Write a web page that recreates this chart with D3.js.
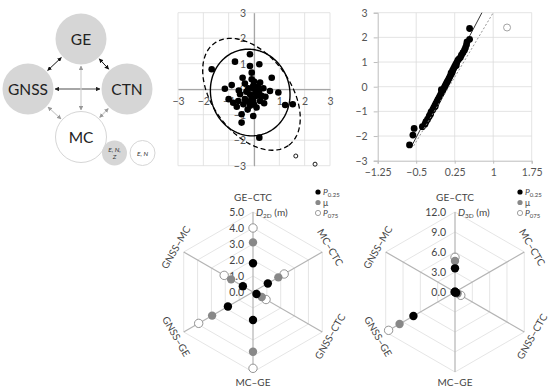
<!DOCTYPE html>
<html>
<head>
<meta charset="utf-8">
<script src="https://cdn.jsdelivr.net/npm/d3@7"></script>
<style>
  body { margin: 0; background: #fff; }
  svg { font-family: Lato, "Open Sans", sans-serif; }
</style>
</head>
<body>
<div id="fig"></div>
<script>
// ---- data ----
var nodeNames = ["GE", "GNSS", "CTN", "MC"];
var keyLabels = [["E, N,", "Z"], ["E, N"]];

// scatter (E, N residuals)
var scatterPts = [[-0.16,1.37],[-0.75,1.08],[0.21,0.98],[-0.16,0.91],[-1.67,0.78],[-0.09,0.65],
  [0.7,0.45],[-0.45,0.45],[-0.09,0.39],[-0.36,0.22],[0.24,0.26],[-0.88,0.16],[-1.15,0.02],
  [-0.03,0.13],[-0.22,0.04],[0.1,-0.04],[0.37,0.04],[0.63,-0.07],[0.96,-0.13],[-0.55,-0.2],
  [-0.16,-0.2],[0.1,-0.26],[0.3,-0.26],[-1.0,-0.39],[-0.36,-0.39],[-0.03,-0.46],[-0.62,-0.46],
  [-0.82,-0.53],[0.24,-0.46],[-0.42,-0.59],[-0.16,-0.65],[-0.68,-0.69],[0.1,-0.72],[1.23,-0.62],
  [1.53,-0.59],[-0.49,-0.98],[-0.03,-1.05],[-0.49,-1.31],[0.21,-1.9],[-0.3,-0.1],[0.0,0.3],
  [0.15,0.1],[-0.1,-0.35],[0.4,-0.55],[-0.25,-0.8],[0.05,-0.15],[0.45,-0.3],[-0.05,0.05],
  [0.2,-0.1],[-0.2,-0.5],[0.0,-0.6],[-0.6,-0.05]];
var outlierPts = [[1.65,-2.62],[2.41,-2.94]];
// ellipse: centre x, centre y, semi-major, semi-minor, angle (deg)
var ellipseSolid = [-0.15, -0.13, 1.71, 1.56, -74];
var ellipseDashed = [-0.1, -0.2, 2.48, 1.54, -53.5];
var scatterTicks = [-3, -2, -1, 0, 1, 2, 3];

// normal Q-Q plot
var qqPts = [[-0.63,-2.36],[-0.565,-1.96],[-0.54,-1.69],[-0.38,-1.62],[-0.33,-1.52],[-0.31,-1.42],
  [-0.28,-1.33],[-0.25,-1.22],[-0.22,-1.12],[-0.21,-1.02],[-0.18,-0.94],[-0.16,-0.86],[-0.14,-0.78],
  [-0.12,-0.70],[-0.10,-0.62],[-0.08,-0.54],[-0.06,-0.46],[-0.04,-0.38],[-0.02,-0.30],[0.00,-0.22],
  [0.02,-0.14],[0.04,-0.06],[0.06,0.02],[0.08,0.10],[0.10,0.18],[0.12,0.26],[0.14,0.34],[0.16,0.42],
  [0.18,0.50],[0.20,0.58],[0.21,0.66],[0.23,0.74],[0.25,0.82],[0.27,0.90],[0.29,0.98],[0.31,1.07],
  [0.33,1.12],[0.36,1.18],[0.38,1.28],[0.41,1.38],[0.44,1.48],[0.46,1.58],[0.48,1.70],[0.49,1.82],
  [0.54,1.92],[0.54,2.36],[-0.24,-1.16],[-0.01,-0.12],[0.18,0.56],[0.28,0.86],[-0.13,-0.8]];
var qqOutlier = [[1.27, 2.4]];
var qqSolidLine = [[-0.6,-2.45],[0.78,3.0]];
var qqDashedLine = [[-0.55,-2.4],[1.0,3.0]];
var qqXTicks = [-1.25, -0.5, 0.25, 1, 1.75];
var qqYTicks = [-3, -2, -1, 0, 1, 2, 3];

// radar charts
var pairs = ["GE–CTC", "MC–CTC", "GNSS–CTC", "MC–GE", "GNSS–GE", "GNSS–MC"];
var d2dTicks = [0, 1, 2, 3, 4, 5];
var d2dP25  = [1.8, 1.07, 0.25, 1.75, 1.81, 0.73];
var d2dMean = [3.1, 1.83, 0.63, 3.73, 2.95, 1.58];
var d2dP75  = [4.0, 2.25, 0.94, 4.77, 3.92, 2.08];
var d3dTicks = [0, 3, 6, 9, 12];
var d3dP25  = [3.55, 0, 0.2, 0, 7.2, 0];
var d3dMean = [4.65, 0, 0.45, 0, 9.6, 0];
var d3dP75  = [5.2, 0, 1.0, 0, 11.5, 0];

// ---- svg ----
var svg = d3.select("#fig").append("svg")
    .attr("width", 550)
    .attr("height", 389);

var defs = svg.append("defs");
function marker(id, color) {
    defs.append("marker")
        .attr("id", id)
        .attr("viewBox", "0 0 10 10")
        .attr("refX", 9).attr("refY", 5)
        .attr("markerWidth", 4.5).attr("markerHeight", 4.5)
        .attr("markerUnits", "userSpaceOnUse")
        .attr("orient", "auto-start-reverse")
        .append("path")
        .attr("d", "M0,0L10,5L0,10Z")
        .attr("fill", color);
}
marker("arBlack", "#111");
marker("arGray", "#999");
marker("arBig", "#222");

// ---- diagram (top left) ----
var diag = svg.append("g");
var nodePos = {GE: [81, 39], GNSS: [28, 89], CTN: [127, 89], MC: [81, 137]};
var nodeR = 25.5;
var links = [["GE", "GNSS", "#111", 1, "arBlack"], ["GE", "CTN", "#111", 1, "arBlack"],
    ["GNSS", "CTN", "#a6a6a6", 2, "arBig"], ["GE", "MC", "#d0d0d0", 1.2, "arGray"],
    ["GNSS", "MC", "#d0d0d0", 1.2, "arGray"], ["CTN", "MC", "#d0d0d0", 1.2, "arGray"]];

links.forEach(function (l) {
    var a = nodePos[l[0]], b = nodePos[l[1]];
    var dx = b[0] - a[0], dy = b[1] - a[1], len = Math.sqrt(dx * dx + dy * dy);
    var ux = dx / len, uy = dy / len, gap = nodeR + 1.5;
    diag.append("line")
        .attr("x1", a[0] + ux * gap).attr("y1", a[1] + uy * gap)
        .attr("x2", b[0] - ux * gap).attr("y2", b[1] - uy * gap)
        .attr("stroke", l[2]).attr("stroke-width", l[3])
        .attr("marker-start", "url(#" + l[4] + ")")
        .attr("marker-end", "url(#" + l[4] + ")");
});

diag.selectAll("circle.node")
    .data(nodeNames)
    .enter().append("circle")
    .attr("class", "node")
    .attr("cx", function (d) { return nodePos[d][0]; })
    .attr("cy", function (d) { return nodePos[d][1]; })
    .attr("r", nodeR)
    .attr("fill", function (d) { return d == "MC" ? "#fff" : "#d6d6d6"; })
    .attr("stroke", function (d) { return d == "MC" ? "#d6d6d6" : "none"; });

diag.selectAll("text.node")
    .data(nodeNames)
    .enter().append("text")
    .attr("x", function (d) { return nodePos[d][0]; })
    .attr("y", function (d) { return nodePos[d][1] + 5.5; })
    .attr("text-anchor", "middle")
    .attr("font-size", 15.5)
    .attr("fill", "#222")
    .text(function (d) { return d; });

var keyPos = [[114.5, 153], [142.5, 153]];
keyLabels.forEach(function (lines, i) {
    diag.append("circle")
        .attr("cx", keyPos[i][0]).attr("cy", keyPos[i][1]).attr("r", 12.5)
        .attr("fill", i == 0 ? "#d6d6d6" : "#fff")
        .attr("stroke", i == 0 ? "none" : "#d6d6d6");
    lines.forEach(function (t, j) {
        diag.append("text")
            .attr("x", keyPos[i][0])
            .attr("y", keyPos[i][1] + 2.5 + (j - (lines.length - 1) / 2) * 7.5)
            .attr("text-anchor", "middle")
            .attr("font-size", 6.5)
            .attr("font-style", "italic")
            .attr("fill", "#333")
            .text(t);
    });
});

// ---- scatter (top middle) ----
var sx = d3.scaleLinear().domain([-3, 3]).range([178, 330]);
var sy = d3.scaleLinear().domain([-3, 3]).range([165.7, 12.7]);
var sc = svg.append("g");

sc.selectAll("line.gx").data(scatterTicks).enter().append("line")
    .attr("x1", function (d) { return sx(d); }).attr("x2", function (d) { return sx(d); })
    .attr("y1", sy(-3)).attr("y2", sy(3))
    .attr("stroke", "#dcdcdc").attr("stroke-width", 0.8);
sc.selectAll("line.gy").data(scatterTicks).enter().append("line")
    .attr("y1", function (d) { return sy(d); }).attr("y2", function (d) { return sy(d); })
    .attr("x1", sx(-3)).attr("x2", sx(3))
    .attr("stroke", "#dcdcdc").attr("stroke-width", 0.8);

var intFmt = d3.format("d");
var sxAxis = sc.append("g")
    .attr("transform", "translate(0," + sy(0) + ")")
    .call(d3.axisBottom(sx).tickValues([-3, -2, -1, 1, 2, 3]).tickFormat(intFmt)
        .tickSize(0).tickPadding(8));
var syAxis = sc.append("g")
    .attr("transform", "translate(" + sx(0) + ",0)")
    .call(d3.axisLeft(sy).tickValues(scatterTicks).tickFormat(intFmt)
        .tickSize(0).tickPadding(8));
[sxAxis, syAxis].forEach(function (a) {
    a.select(".domain").attr("stroke", "#a6a6a6").attr("stroke-width", 1.2);
    a.selectAll("text").attr("font-size", 10.5).attr("fill", "#555")
        .style("font-family", "Lato, 'Open Sans', sans-serif");
});

function ellipsePath(p) {
    var t = p[4] * Math.PI / 180;
    var pts = d3.range(0, 2 * Math.PI, 0.04).map(function (u) {
        var ex = p[2] * Math.cos(u), ey = p[3] * Math.sin(u);
        return [p[0] + ex * Math.cos(t) - ey * Math.sin(t), p[1] + ex * Math.sin(t) + ey * Math.cos(t)];
    });
    return d3.line().x(function (d) { return sx(d[0]); })
        .y(function (d) { return sy(d[1]); })
        .curve(d3.curveLinearClosed)(pts);
}

sc.selectAll("circle.pt").data(scatterPts).enter().append("circle")
    .attr("cx", function (d) { return sx(d[0]); })
    .attr("cy", function (d) { return sy(d[1]); })
    .attr("r", 3.3).attr("fill", "#000");
sc.selectAll("circle.out").data(outlierPts).enter().append("circle")
    .attr("cx", function (d) { return sx(d[0]); })
    .attr("cy", function (d) { return sy(d[1]); })
    .attr("r", 2).attr("fill", "#fff").attr("stroke", "#000").attr("stroke-width", 0.9);

sc.append("path").attr("d", ellipsePath(ellipseSolid))
    .attr("fill", "none").attr("stroke", "#000").attr("stroke-width", 1.4);
sc.append("path").attr("d", ellipsePath(ellipseDashed))
    .attr("fill", "none").attr("stroke", "#000").attr("stroke-width", 1.3)
    .attr("stroke-dasharray", "5,3");

// ---- Q-Q plot (top right) ----
var qx = d3.scaleLinear().domain([-1.25, 1.75]).range([377.7, 531.7]);
var qy = d3.scaleLinear().domain([-3, 3]).range([160.7, 12.7]);
var qq = svg.append("g");

qq.selectAll("line.gx").data(qqXTicks.slice(1)).enter().append("line")
    .attr("x1", function (d) { return qx(d); }).attr("x2", function (d) { return qx(d); })
    .attr("y1", qy(-3)).attr("y2", qy(3))
    .attr("stroke", "#dcdcdc").attr("stroke-width", 0.8);
qq.selectAll("line.gy").data(qqYTicks.slice(1)).enter().append("line")
    .attr("y1", function (d) { return qy(d); }).attr("y2", function (d) { return qy(d); })
    .attr("x1", qx(-1.25)).attr("x2", qx(1.75))
    .attr("stroke", "#dcdcdc").attr("stroke-width", 0.8);

var qxAxis = qq.append("g")
    .attr("transform", "translate(0," + qy(-3) + ")")
    .call(d3.axisBottom(qx).tickValues(qqXTicks).tickSize(3).tickPadding(5)
        .tickFormat(d3.format("~g")));
var qyAxis = qq.append("g")
    .attr("transform", "translate(" + qx(-1.25) + ",0)")
    .call(d3.axisLeft(qy).tickValues(qqYTicks).tickFormat(intFmt).tickSize(4).tickPadding(6));
[qxAxis, qyAxis].forEach(function (a) {
    a.select(".domain").attr("stroke", "#bdbdbd").attr("stroke-width", 1);
    a.selectAll(".tick line").attr("stroke", "#bdbdbd");
    a.selectAll("text").attr("font-size", 10.5).attr("fill", "#555")
        .style("font-family", "Lato, 'Open Sans', sans-serif");
});

var qline = d3.line().x(function (d) { return qx(d[0]); }).y(function (d) { return qy(d[1]); });
qq.append("path").attr("d", qline(qqSolidLine))
    .attr("stroke", "#000").attr("stroke-width", 0.8).attr("fill", "none");
qq.selectAll("circle.pt").data(qqPts).enter().append("circle")
    .attr("cx", function (d) { return qx(d[0]); })
    .attr("cy", function (d) { return qy(d[1]); })
    .attr("r", 3.4).attr("fill", "#000");
qq.append("path").attr("d", qline(qqDashedLine))
    .attr("stroke", "#888").attr("stroke-width", 0.9).attr("fill", "none")
    .attr("stroke-dasharray", "2,2");
qq.selectAll("circle.out").data(qqOutlier).enter().append("circle")
    .attr("cx", function (d) { return qx(d[0]); })
    .attr("cy", function (d) { return qy(d[1]); })
    .attr("r", 3.5).attr("fill", "#fff").attr("stroke", "#999").attr("stroke-width", 0.9);

// ---- radar charts (bottom) ----
var angles = [90, 30, -30, -90, -150, 150];

function drawRadar(cx, cy, ticks, p25, mean, p75, sub) {
    var g = svg.append("g");
    var r = d3.scaleLinear().domain([0, d3.max(ticks)]).range([0, 80]);
    function pt(i, v) {
        var a = angles[i] * Math.PI / 180;
        return [cx + r(v) * Math.cos(a), cy - r(v) * Math.sin(a)];
    }

    // hexagon rings
    ticks.slice(1).forEach(function (t) {
        g.append("path")
            .attr("d", d3.line().curve(d3.curveLinearClosed)(angles.map(function (a, i) { return pt(i, t); })))
            .attr("fill", "none").attr("stroke", "#e2e2e2").attr("stroke-width", 0.9);
    });
    // spokes
    angles.forEach(function (a, i) {
        var e = pt(i, d3.max(ticks));
        g.append("line")
            .attr("x1", cx).attr("y1", cy).attr("x2", e[0]).attr("y2", e[1])
            .attr("stroke", "#b4b4b4").attr("stroke-width", 1.2);
    });

    // value labels
    g.selectAll("text.tick").data(ticks).enter().append("text")
        .attr("x", cx - 9)
        .attr("y", function (d) { return cy - r(d) + 3.5; })
        .attr("text-anchor", "end")
        .attr("font-size", 10.5)
        .attr("fill", "#444")
        .text(function (d) { return d3.format(".1f")(d); });

    // category labels
    pairs.forEach(function (p, i) {
        var a = angles[i];
        var rr = (a == 90) ? 95 : (a == -90 ? 90 : 89);
        var q = [cx + rr * Math.cos(a * Math.PI / 180), cy - rr * Math.sin(a * Math.PI / 180)];
        var rot = 90 - a;
        if (rot > 90) rot -= 180;
        if (rot == 180) rot = 0;
        g.append("text")
            .attr("transform", "translate(" + q[0] + "," + q[1] + ") rotate(" + rot + ")")
            .attr("y", 3.5)
            .attr("text-anchor", "middle")
            .attr("font-size", 10)
            .attr("fill", "#444")
            .text(p);
    });

    // unit label
    var ul = g.append("text")
        .attr("x", cx + 3).attr("y", cy - 80 + 3.5)
        .attr("font-size", 10).attr("fill", "#444");
    ul.append("tspan").attr("font-style", "italic").text("D");
    ul.append("tspan").attr("font-size", 6.5).attr("dy", 2).text(sub);
    ul.append("tspan").attr("dy", -2).text(" (m)");

    // points: P75, mean, P25
    var series = [[p75, "#fff", "#888"], [mean, "#888", "none"], [p25, "#000", "none"]];
    series.forEach(function (s) {
        g.selectAll(null).data(s[0]).enter().append("circle")
            .attr("cx", function (d, i) { return pt(i, d)[0]; })
            .attr("cy", function (d, i) { return pt(i, d)[1]; })
            .attr("r", 4.2)
            .attr("fill", s[1])
            .attr("stroke", s[2]).attr("stroke-width", 0.9);
    });

    // legend
    var lx = cx + 65;
    var leg = [["#000", "none", "P", "0.25"], ["#888", "none", "μ", ""], ["#fff", "#888", "P", "075"]];
    leg.forEach(function (l, i) {
        var ly = 192 + i * 10.5;
        g.append("circle").attr("cx", lx).attr("cy", ly).attr("r", 2.6)
            .attr("fill", l[0]).attr("stroke", l[1]).attr("stroke-width", 0.8);
        var t = g.append("text").attr("x", lx + 5).attr("y", ly + 3)
            .attr("font-size", 8.5).attr("fill", "#444");
        t.append("tspan").attr("font-style", l[2] == "P" ? "italic" : "normal").text(l[2]);
        if (l[3]) t.append("tspan").attr("font-size", 6).attr("dy", 1.5).text(l[3]);
    });
}

drawRadar(253, 292, d2dTicks, d2dP25, d2dMean, d2dP75, "2D");
drawRadar(455, 292, d3dTicks, d3dP25, d3dMean, d3dP75, "3D");
</script>
</body>
</html>
